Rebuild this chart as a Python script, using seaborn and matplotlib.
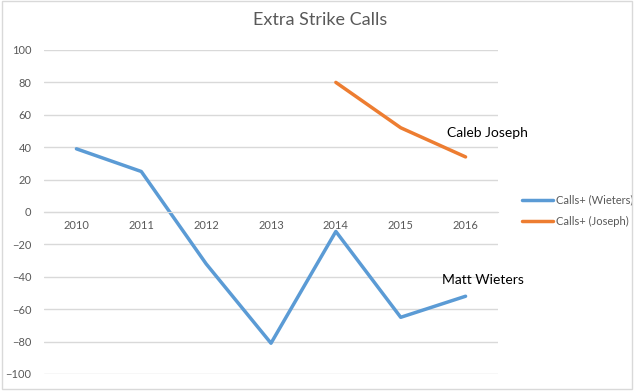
import matplotlib
matplotlib.use("Agg")
import matplotlib.pyplot as plt
import seaborn as sns
import pandas as pd
from matplotlib.patches import Rectangle

years_wieters = [2010, 2011, 2012, 2013, 2014, 2015, 2016]
calls_wieters = [39, 25, -32, -81, -12, -65, -52]
years_joseph = [2014, 2015, 2016]
calls_joseph = [80, 52, 34]
series_names = ["Calls+ (Wieters)", "Calls+ (Joseph)"]
yticks = [-100, -80, -60, -40, -20, 0, 20, 40, 60, 80, 100]
title = "Extra Strike Calls"

df = pd.concat([
    pd.DataFrame({"year": years_wieters, "calls": calls_wieters, "series": series_names[0]}),
    pd.DataFrame({"year": years_joseph, "calls": calls_joseph, "series": series_names[1]}),
])

sns.set_style("white")
plt.rcParams["font.family"] = ["Lato", "DejaVu Sans"]

W, H = 640, 391
fig = plt.figure(figsize=(6.4, 3.91), dpi=100)
ax = fig.add_axes([44 / W, 1 - 374 / H, (498 - 44) / W, (374 - 50) / H])

palette = {series_names[0]: "#5B9BD5", series_names[1]: "#ED7D31"}
sns.lineplot(data=df, x="year", y="calls", hue="series", palette=palette,
             linewidth=2.5, ax=ax, legend=True)

ax.set_xlim(min(years_wieters) - 0.5, max(years_wieters) + 0.5)
ax.set_ylim(-100, 100)
ax.set_yticks(yticks)
ax.set_xticks(years_wieters)
ax.set_xticklabels([str(y) for y in years_wieters])
ax.set_xlabel("")
ax.set_ylabel("")
ax.grid(axis="y", color="#D9D9D9", linewidth=1.0)
ax.set_axisbelow(True)
for s in ["top", "right", "left"]:
    ax.spines[s].set_visible(False)
ax.spines["bottom"].set_position(("data", 0))
ax.spines["bottom"].set_color("#D9D9D9")
ax.tick_params(axis="both", length=0, labelsize=8, labelcolor="#595959")
ax.tick_params(axis="y", pad=9)
ax.tick_params(axis="x", pad=6)

ax.text(2016.33, 49, "Caleb Joseph", fontsize=10, color="black", ha="center", va="center")
ax.text(2016.27, -42, "Matt Wieters", fontsize=10, color="black", ha="center", va="center")

leg = ax.legend(loc="center left", bbox_to_anchor=(512 / W, 1 - 211 / H),
                bbox_transform=fig.transFigure, frameon=False, fontsize=8,
                handlelength=2.8, labelspacing=0.95, handletextpad=0.3)
for t in leg.get_texts():
    t.set_color("#595959")

fig.text(320 / W, 1 - 20 / H, title, ha="center", va="center", fontsize=13, color="#595959")

fig.patches.append(Rectangle((2 / W, 2 / H), 630 / W, (H - 3) / H, transform=fig.transFigure,
                             fill=False, edgecolor="#D9D9D9", linewidth=1.0))

fig.savefig("out.png", dpi=100)
